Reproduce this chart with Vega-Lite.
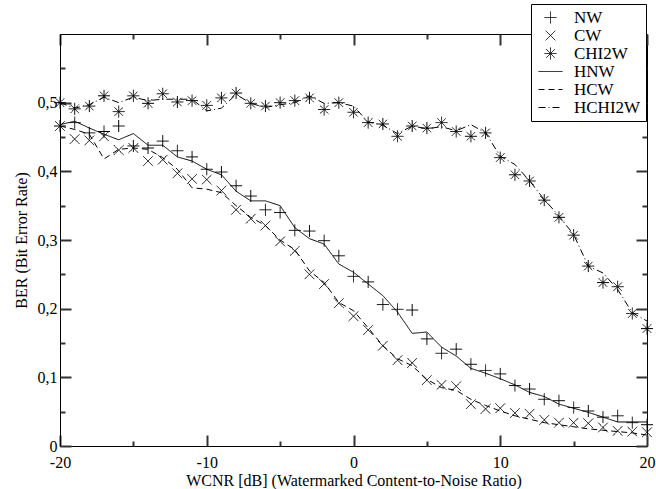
{
"$schema": "https://vega.github.io/schema/vega-lite/v6.json",
"width": 587, "height": 412,
"autosize": {"type": "none"},
"padding": {"left": 60, "top": 34, "right": 9, "bottom": 43},
"background": "white",
"datasets": {"d": [
{"x":-20,"s":"NW","v":0.466},{"x":-19,"s":"NW","v":0.471},{"x":-18,"s":"NW","v":0.456},{"x":-17,"s":"NW","v":0.458},{"x":-16,"s":"NW","v":0.466},{"x":-15,"s":"NW","v":0.437},{"x":-14,"s":"NW","v":0.434},{"x":-13,"s":"NW","v":0.444},{"x":-12,"s":"NW","v":0.430},{"x":-11,"s":"NW","v":0.421},
{"x":-10,"s":"NW","v":0.403},{"x":-9,"s":"NW","v":0.399},{"x":-8,"s":"NW","v":0.379},{"x":-7,"s":"NW","v":0.364},{"x":-6,"s":"NW","v":0.344},{"x":-5,"s":"NW","v":0.340},{"x":-4,"s":"NW","v":0.314},{"x":-3,"s":"NW","v":0.313},{"x":-2,"s":"NW","v":0.299},{"x":-1,"s":"NW","v":0.277},
{"x":0,"s":"NW","v":0.247},{"x":1,"s":"NW","v":0.239},{"x":2,"s":"NW","v":0.206},{"x":3,"s":"NW","v":0.199},{"x":4,"s":"NW","v":0.198},{"x":5,"s":"NW","v":0.156},{"x":6,"s":"NW","v":0.135},{"x":7,"s":"NW","v":0.141},{"x":8,"s":"NW","v":0.119},{"x":9,"s":"NW","v":0.110},
{"x":10,"s":"NW","v":0.105},{"x":11,"s":"NW","v":0.088},{"x":12,"s":"NW","v":0.083},{"x":13,"s":"NW","v":0.068},{"x":14,"s":"NW","v":0.066},{"x":15,"s":"NW","v":0.056},{"x":16,"s":"NW","v":0.051},{"x":17,"s":"NW","v":0.042},{"x":18,"s":"NW","v":0.044},{"x":19,"s":"NW","v":0.034},{"x":20,"s":"NW","v":0.031},
{"x":-20,"s":"CW","v":0.466},{"x":-19,"s":"CW","v":0.447},{"x":-18,"s":"CW","v":0.445},{"x":-17,"s":"CW","v":0.451},{"x":-16,"s":"CW","v":0.431},{"x":-15,"s":"CW","v":0.434},{"x":-14,"s":"CW","v":0.415},{"x":-13,"s":"CW","v":0.417},{"x":-12,"s":"CW","v":0.397},{"x":-11,"s":"CW","v":0.389},
{"x":-10,"s":"CW","v":0.388},{"x":-9,"s":"CW","v":0.372},{"x":-8,"s":"CW","v":0.344},{"x":-7,"s":"CW","v":0.331},{"x":-6,"s":"CW","v":0.321},{"x":-5,"s":"CW","v":0.298},{"x":-4,"s":"CW","v":0.284},{"x":-3,"s":"CW","v":0.250},{"x":-2,"s":"CW","v":0.236},{"x":-1,"s":"CW","v":0.208},
{"x":0,"s":"CW","v":0.189},{"x":1,"s":"CW","v":0.169},{"x":2,"s":"CW","v":0.146},{"x":3,"s":"CW","v":0.125},{"x":4,"s":"CW","v":0.121},{"x":5,"s":"CW","v":0.096},{"x":6,"s":"CW","v":0.089},{"x":7,"s":"CW","v":0.087},{"x":8,"s":"CW","v":0.061},{"x":9,"s":"CW","v":0.054},
{"x":10,"s":"CW","v":0.055},{"x":11,"s":"CW","v":0.048},{"x":12,"s":"CW","v":0.047},{"x":13,"s":"CW","v":0.038},{"x":14,"s":"CW","v":0.034},{"x":15,"s":"CW","v":0.034},{"x":16,"s":"CW","v":0.033},{"x":17,"s":"CW","v":0.027},{"x":18,"s":"CW","v":0.022},{"x":19,"s":"CW","v":0.021},{"x":20,"s":"CW","v":0.020},
{"x":-20,"s":"CHI2W","v":0.500},{"x":-19,"s":"CHI2W","v":0.491},{"x":-18,"s":"CHI2W","v":0.495},{"x":-17,"s":"CHI2W","v":0.510},{"x":-16,"s":"CHI2W","v":0.487},{"x":-15,"s":"CHI2W","v":0.510},{"x":-14,"s":"CHI2W","v":0.499},{"x":-13,"s":"CHI2W","v":0.513},{"x":-12,"s":"CHI2W","v":0.501},{"x":-11,"s":"CHI2W","v":0.503},
{"x":-10,"s":"CHI2W","v":0.496},{"x":-9,"s":"CHI2W","v":0.507},{"x":-8,"s":"CHI2W","v":0.514},{"x":-7,"s":"CHI2W","v":0.499},{"x":-6,"s":"CHI2W","v":0.495},{"x":-5,"s":"CHI2W","v":0.500},{"x":-4,"s":"CHI2W","v":0.503},{"x":-3,"s":"CHI2W","v":0.507},{"x":-2,"s":"CHI2W","v":0.490},{"x":-1,"s":"CHI2W","v":0.500},
{"x":0,"s":"CHI2W","v":0.486},{"x":1,"s":"CHI2W","v":0.471},{"x":2,"s":"CHI2W","v":0.469},{"x":3,"s":"CHI2W","v":0.451},{"x":4,"s":"CHI2W","v":0.466},{"x":5,"s":"CHI2W","v":0.463},{"x":6,"s":"CHI2W","v":0.471},{"x":7,"s":"CHI2W","v":0.458},{"x":8,"s":"CHI2W","v":0.451},{"x":9,"s":"CHI2W","v":0.456},
{"x":10,"s":"CHI2W","v":0.420},{"x":11,"s":"CHI2W","v":0.395},{"x":12,"s":"CHI2W","v":0.386},{"x":13,"s":"CHI2W","v":0.358},{"x":14,"s":"CHI2W","v":0.333},{"x":15,"s":"CHI2W","v":0.307},{"x":16,"s":"CHI2W","v":0.262},{"x":17,"s":"CHI2W","v":0.238},{"x":18,"s":"CHI2W","v":0.232},{"x":19,"s":"CHI2W","v":0.193},{"x":20,"s":"CHI2W","v":0.171},
{"x":-20,"s":"HNW","v":0.468},{"x":-19,"s":"HNW","v":0.473},{"x":-18,"s":"HNW","v":0.463},{"x":-17,"s":"HNW","v":0.454},{"x":-16,"s":"HNW","v":0.446},{"x":-15,"s":"HNW","v":0.455},{"x":-14,"s":"HNW","v":0.438},{"x":-13,"s":"HNW","v":0.438},{"x":-12,"s":"HNW","v":0.421},{"x":-11,"s":"HNW","v":0.415},
{"x":-10,"s":"HNW","v":0.403},{"x":-9,"s":"HNW","v":0.395},{"x":-8,"s":"HNW","v":0.371},{"x":-7,"s":"HNW","v":0.357},{"x":-6,"s":"HNW","v":0.357},{"x":-5,"s":"HNW","v":0.350},{"x":-4,"s":"HNW","v":0.318},{"x":-3,"s":"HNW","v":0.302},{"x":-2,"s":"HNW","v":0.294},{"x":-1,"s":"HNW","v":0.265},
{"x":0,"s":"HNW","v":0.253},{"x":1,"s":"HNW","v":0.236},{"x":2,"s":"HNW","v":0.219},{"x":3,"s":"HNW","v":0.195},{"x":4,"s":"HNW","v":0.164},{"x":5,"s":"HNW","v":0.166},{"x":6,"s":"HNW","v":0.144},{"x":7,"s":"HNW","v":0.131},{"x":8,"s":"HNW","v":0.113},{"x":9,"s":"HNW","v":0.106},
{"x":10,"s":"HNW","v":0.098},{"x":11,"s":"HNW","v":0.089},{"x":12,"s":"HNW","v":0.078},{"x":13,"s":"HNW","v":0.072},{"x":14,"s":"HNW","v":0.061},{"x":15,"s":"HNW","v":0.055},{"x":16,"s":"HNW","v":0.049},{"x":17,"s":"HNW","v":0.042},{"x":18,"s":"HNW","v":0.035},{"x":19,"s":"HNW","v":0.035},{"x":20,"s":"HNW","v":0.035},
{"x":-20,"s":"HCW","v":0.466},{"x":-19,"s":"HCW","v":0.461},{"x":-18,"s":"HCW","v":0.454},{"x":-17,"s":"HCW","v":0.418},{"x":-16,"s":"HCW","v":0.432},{"x":-15,"s":"HCW","v":0.434},{"x":-14,"s":"HCW","v":0.432},{"x":-13,"s":"HCW","v":0.420},{"x":-12,"s":"HCW","v":0.403},{"x":-11,"s":"HCW","v":0.376},
{"x":-10,"s":"HCW","v":0.374},{"x":-9,"s":"HCW","v":0.369},{"x":-8,"s":"HCW","v":0.350},{"x":-7,"s":"HCW","v":0.333},{"x":-6,"s":"HCW","v":0.321},{"x":-5,"s":"HCW","v":0.300},{"x":-4,"s":"HCW","v":0.286},{"x":-3,"s":"HCW","v":0.255},{"x":-2,"s":"HCW","v":0.238},{"x":-1,"s":"HCW","v":0.209},
{"x":0,"s":"HCW","v":0.197},{"x":1,"s":"HCW","v":0.172},{"x":2,"s":"HCW","v":0.146},{"x":3,"s":"HCW","v":0.127},{"x":4,"s":"HCW","v":0.117},{"x":5,"s":"HCW","v":0.097},{"x":6,"s":"HCW","v":0.085},{"x":7,"s":"HCW","v":0.081},{"x":8,"s":"HCW","v":0.068},{"x":9,"s":"HCW","v":0.059},
{"x":10,"s":"HCW","v":0.051},{"x":11,"s":"HCW","v":0.044},{"x":12,"s":"HCW","v":0.039},{"x":13,"s":"HCW","v":0.034},{"x":14,"s":"HCW","v":0.031},{"x":15,"s":"HCW","v":0.028},{"x":16,"s":"HCW","v":0.025},{"x":17,"s":"HCW","v":0.023},{"x":18,"s":"HCW","v":0.021},{"x":19,"s":"HCW","v":0.019},{"x":20,"s":"HCW","v":0.016},
{"x":-20,"s":"HCHI2W","v":0.500},{"x":-19,"s":"HCHI2W","v":0.492},{"x":-18,"s":"HCHI2W","v":0.497},{"x":-17,"s":"HCHI2W","v":0.508},{"x":-16,"s":"HCHI2W","v":0.500},{"x":-15,"s":"HCHI2W","v":0.508},{"x":-14,"s":"HCHI2W","v":0.503},{"x":-13,"s":"HCHI2W","v":0.505},{"x":-12,"s":"HCHI2W","v":0.505},{"x":-11,"s":"HCHI2W","v":0.505},
{"x":-10,"s":"HCHI2W","v":0.488},{"x":-9,"s":"HCHI2W","v":0.492},{"x":-8,"s":"HCHI2W","v":0.512},{"x":-7,"s":"HCHI2W","v":0.499},{"x":-6,"s":"HCHI2W","v":0.493},{"x":-5,"s":"HCHI2W","v":0.497},{"x":-4,"s":"HCHI2W","v":0.500},{"x":-3,"s":"HCHI2W","v":0.510},{"x":-2,"s":"HCHI2W","v":0.499},{"x":-1,"s":"HCHI2W","v":0.500},
{"x":0,"s":"HCHI2W","v":0.495},{"x":1,"s":"HCHI2W","v":0.472},{"x":2,"s":"HCHI2W","v":0.467},{"x":3,"s":"HCHI2W","v":0.455},{"x":4,"s":"HCHI2W","v":0.466},{"x":5,"s":"HCHI2W","v":0.462},{"x":6,"s":"HCHI2W","v":0.465},{"x":7,"s":"HCHI2W","v":0.459},{"x":8,"s":"HCHI2W","v":0.468},{"x":9,"s":"HCHI2W","v":0.456},
{"x":10,"s":"HCHI2W","v":0.422},{"x":11,"s":"HCHI2W","v":0.410},{"x":12,"s":"HCHI2W","v":0.386},{"x":13,"s":"HCHI2W","v":0.359},{"x":14,"s":"HCHI2W","v":0.335},{"x":15,"s":"HCHI2W","v":0.308},{"x":16,"s":"HCHI2W","v":0.262},{"x":17,"s":"HCHI2W","v":0.252},{"x":18,"s":"HCHI2W","v":0.228},{"x":19,"s":"HCHI2W","v":0.194},{"x":20,"s":"HCHI2W","v":0.182}
]},
"data": {"name": "d"},
"config": {
  "view": {"stroke": "black", "strokeWidth": 1},
  "axis": {"grid": false, "domainColor": "black", "tickColor": "#333333", "labelColor": "black", "titleColor": "black",
    "labelFont": "Liberation Serif", "labelFontSize": 16, "titleFont": "Liberation Serif", "titleFontSize": 16, "titleFontWeight": "normal",
    "labelFlush": false, "labelOverlap": false, "tickWidth": 2, "domainWidth": 1},
  "legend": {"orient": "none", "legendX": 471, "legendY": -30, "fillColor": "white", "strokeColor": "black", "padding": 5,
    "symbolSize": 144, "symbolStrokeWidth": 1, "symbolStrokeColor": "black", "symbolFillColor": "transparent", "symbolOffset": 6,
    "labelFont": "Liberation Serif", "labelFontSize": 17, "labelColor": "black", "labelOffset": 15, "rowPadding": 0, "cornerRadius": 0}
},
"resolve": {"axis": {"x": "independent", "y": "independent"}},
"layer": [
 {"transform": [{"filter": {"field": "s", "oneOf": ["HNW", "HCW", "HCHI2W"]}}],
  "mark": {"type": "line", "color": "black", "strokeWidth": 1},
  "encoding": {
    "x": {"field": "x", "type": "quantitative", "scale": {"domain": [-20, 20], "nice": false, "zero": false},
      "axis": {"orient": "bottom", "title": "WCNR [dB] (Watermarked Content-to-Noise Ratio)", "values": [-20,-10,0,10,20],
        "labelExpr": "datum.value + ''", "ticks": false, "labelPadding": 8, "titlePadding": 2}},
    "y": {"field": "v", "type": "quantitative", "scale": {"domain": [0, 0.6], "nice": false},
      "axis": {"orient": "left", "title": "BER (Bit Error Rate)", "values": [0,0.1,0.2,0.3,0.4,0.5],
        "labelExpr": "replace(datum.value + '', '.', ',')", "ticks": false, "labelPadding": 3, "titlePadding": 8}},
    "strokeDash": {"field": "s", "type": "nominal", "legend": {"title": null}}
  }},
 {"transform": [{"filter": {"field": "s", "oneOf": ["NW", "CW", "CHI2W"]}}],
  "mark": {"type": "point", "filled": false, "color": "black", "strokeWidth": 1, "size": 144, "opacity": 1},
  "encoding": {
    "x": {"field": "x", "type": "quantitative",
      "axis": {"orient": "bottom", "offset": -11, "title": null, "labels": false, "domain": false, "values": [-20,-10,0,10,20], "ticks": true, "tickSize": 11}},
    "y": {"field": "v", "type": "quantitative",
      "axis": {"orient": "left", "offset": -11, "title": null, "labels": false, "domain": false, "values": [0,0.1,0.2,0.3,0.4,0.5], "ticks": true, "tickSize": 11}},
    "shape": {"field": "s", "type": "nominal",
      "scale": {"domain": ["NW", "CW", "CHI2W", "HNW", "HCW", "HCHI2W"],
        "range": ["M-1,0L1,0M0,-1L0,1", "M-0.8,-0.8L0.8,0.8M-0.8,0.8L0.8,-0.8", "M-1,0L1,0M0,-1L0,1M-0.7,-0.7L0.7,0.7M-0.7,0.7L0.7,-0.7", "M-2,0L2,0", "M-2,0L2,0", "M-2,0L2,0"]},
      "legend": {"title": null}},
    "strokeDash": {"field": "s", "type": "nominal",
      "scale": {"domain": ["NW", "CW", "CHI2W", "HNW", "HCW", "HCHI2W"], "range": [[1, 0], [1, 0], [1, 0], [1, 0], [6, 4], [7, 3, 1, 3]]},
      "legend": {"title": null}}
  }},
 {"transform": [{"filter": "datum.s === 'NW' && datum.x === 0"}],
  "mark": {"type": "point", "opacity": 0},
  "encoding": {
    "x": {"field": "x", "type": "quantitative",
      "axis": {"orient": "bottom", "offset": -5, "title": null, "labels": false, "domain": false, "values": [-15,-5,5,15], "ticks": true, "tickSize": 5}},
    "y": {"field": "v", "type": "quantitative",
      "axis": {"orient": "left", "offset": -5, "title": null, "labels": false, "domain": false, "values": [0.05,0.15,0.25,0.35,0.45,0.55], "ticks": true, "tickSize": 5}}
  }},
 {"transform": [{"filter": "datum.s === 'NW' && datum.x === 0"}],
  "mark": {"type": "point", "opacity": 0},
  "encoding": {
    "x": {"field": "x", "type": "quantitative",
      "axis": {"orient": "top", "offset": -11, "title": null, "labels": false, "domain": false, "values": [-20,-10,0,10,20], "ticks": true, "tickSize": 11}},
    "y": {"field": "v", "type": "quantitative",
      "axis": {"orient": "right", "offset": -11, "title": null, "labels": false, "domain": false, "values": [0,0.1,0.2,0.3,0.4,0.5], "ticks": true, "tickSize": 11}}
  }},
 {"transform": [{"filter": "datum.s === 'NW' && datum.x === 0"}],
  "mark": {"type": "point", "opacity": 0},
  "encoding": {
    "x": {"field": "x", "type": "quantitative",
      "axis": {"orient": "top", "offset": -5, "title": null, "labels": false, "domain": false, "values": [-15,-5,5,15], "ticks": true, "tickSize": 5}},
    "y": {"field": "v", "type": "quantitative",
      "axis": {"orient": "right", "offset": -5, "title": null, "labels": false, "domain": false, "values": [0.05,0.15,0.25,0.35,0.45,0.55], "ticks": true, "tickSize": 5}}
  }}
]
}
